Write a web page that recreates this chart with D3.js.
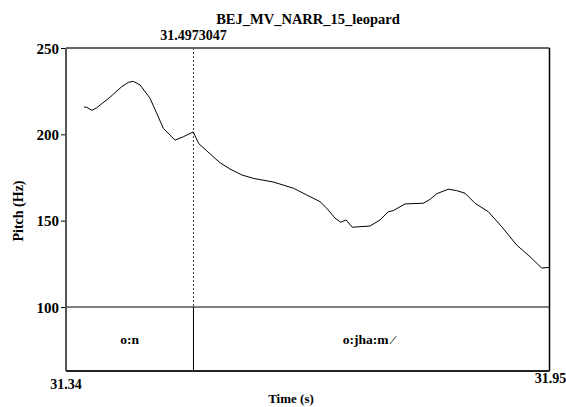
<!DOCTYPE html>
<html><head><meta charset="utf-8">
<script src="https://cdn.jsdelivr.net/npm/d3@7"></script>
</head><body style="margin:0;background:#fff">
<svg id="chart" width="566" height="407" style="display:block"></svg>
<script>
const title = "BEJ_MV_NARR_15_leopard";
const timeDomain = [31.3365, 31.9465];
const pitchDomain = [100, 250];
const pitchTicks = [100, 150, 200, 250];
const cursorTime = 31.4973047;
const times = [31.3592,31.3626,31.3693,31.3752,31.3920,31.4068,31.4151,31.4214,31.4299,31.4425,31.4509,31.4593,31.4740,31.4845,31.4971,31.5040,31.5140,31.5245,31.5308,31.5434,31.5582,31.5728,31.5980,31.6233,31.6402,31.6570,31.6654,31.6759,31.6831,31.6898,31.6977,31.7200,31.7327,31.7431,31.7494,31.7642,31.7873,31.7957,31.8042,31.8188,31.8294,31.8399,31.8525,31.8693,31.8862,31.9051,31.9219,31.9366,31.9462];
const pitch = [215.8,215.7,213.9,215.4,221.5,227.6,230.1,230.7,228.6,220.9,212.2,203.5,196.6,198.6,201.4,194.6,190.5,186.1,183.6,179.9,176.5,174.5,172.4,168.8,164.9,161.0,157.2,151.5,149.1,150.4,146.2,146.9,150.4,155.2,155.8,159.7,160.1,162.3,165.6,168.2,167.4,165.9,160.1,155.2,146.5,135.9,129.1,122.6,122.9];
const tierLabels = ["o:n", "o:jha:m \u2044"];
const tierBounds = [31.3365, 31.4973047, 31.9465];

const L = 66, R = 549.5, T = 48, B = 307, TB = 371;
const FONT = "Liberation Serif";
const svg = d3.select("#chart");
const x = d3.scaleLinear().domain(timeDomain).range([L, R]);
const y = d3.scaleLinear().domain(pitchDomain).range([B, T]);

function txt(xp, yp, s, size, anchor) {
  return svg.append("text").attr("x", xp).attr("y", yp).attr("text-anchor", anchor || "middle")
    .attr("font-family", FONT).attr("font-weight", "bold").attr("font-size", size).attr("fill", "#000").text(s);
}

// pitch curve
const line = d3.line().x(d => x(d[0])).y(d => y(d[1]));
svg.append("path").datum(times.map((t, i) => [t, pitch[i]]))
  .attr("d", line).attr("fill", "none").attr("stroke", "#000").attr("stroke-width", 1);

// cursor
const cx = x(cursorTime);
svg.append("line").attr("x1", cx).attr("x2", cx).attr("y1", T).attr("y2", B)
  .attr("stroke", "#000").attr("stroke-width", 0.8).attr("stroke-dasharray", "2,2");
txt(cx, 40, cursorTime.toFixed(7), 14);

// tier
svg.append("line").attr("x1", L).attr("x2", R).attr("y1", B).attr("y2", B).attr("stroke", "#000").attr("stroke-width", 1);
for (let i = 1; i < tierBounds.length - 1; i++) {
  svg.append("line").attr("x1", x(tierBounds[i])).attr("x2", x(tierBounds[i])).attr("y1", B).attr("y2", TB)
    .attr("stroke", "#000").attr("stroke-width", 1);
}
tierLabels.forEach((lab, i) => {
  txt((x(tierBounds[i]) + x(tierBounds[i + 1])) / 2 - (i === 1 ? 3 : 0), 344, lab, 13.5);
});

// frame
svg.append("line").attr("x1", L).attr("x2", R).attr("y1", T).attr("y2", T).attr("stroke", "#666").attr("stroke-width", 2);
svg.append("line").attr("x1", L).attr("x2", L).attr("y1", T).attr("y2", TB).attr("stroke", "#555").attr("stroke-width", 2);
svg.append("line").attr("x1", R).attr("x2", R).attr("y1", T).attr("y2", TB).attr("stroke", "#000").attr("stroke-width", 1.5);
svg.append("line").attr("x1", L).attr("x2", R).attr("y1", TB).attr("y2", TB).attr("stroke", "#222").attr("stroke-width", 2);

// y axis ticks
const yAxis = d3.axisLeft(y).tickValues(pitchTicks).tickSize(4).tickPadding(2).tickFormat(d3.format("d"));
const ga = svg.append("g").attr("transform", `translate(${L - 1},0)`).call(yAxis)
  .attr("font-family", FONT).attr("font-size", 15).attr("font-weight", "bold");
ga.select(".domain").remove();
ga.selectAll(".tick line").attr("stroke", "#000");
ga.selectAll(".tick text").attr("fill", "#000").attr("dy", "0.35em");

// x labels
txt(L, 389, timeDomain[0].toFixed(2), 14);
txt(R + 1, 383, timeDomain[1].toFixed(2), 14);

// titles
txt(308, 24, title, 14.5);
txt(291, 403, "Time (s)", 13);
svg.append("text").attr("transform", "translate(23,211) rotate(-90)").attr("text-anchor", "middle")
  .attr("font-family", FONT).attr("font-weight", "bold").attr("font-size", 14).text("Pitch (Hz)");
</script>
</body></html>
